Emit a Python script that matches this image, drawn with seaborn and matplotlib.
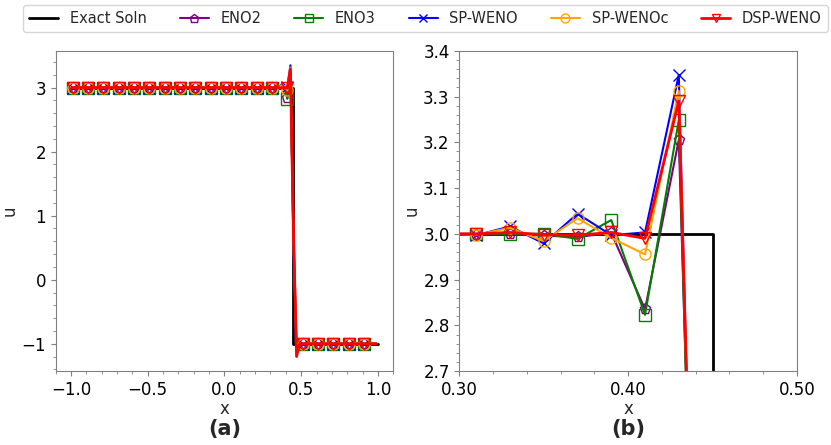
import numpy as np
import matplotlib
matplotlib.use("Agg")
import matplotlib.pyplot as plt
import seaborn as sns
from matplotlib.ticker import AutoMinorLocator, MultipleLocator, FormatStrFormatter

# cell centres on [-1, 1], dx = 0.02
x = np.round(np.arange(-0.99, 1.0, 0.02), 2)

# values: plateau u=3 up to x=0.29, shock region 0.31..0.47, plateau u=-1 after
n_left = 65
n_right = 26
eno2_shock = [2.998, 2.999, 2.996, 2.993, 3.002, 2.835, 3.205, 0.8, -1.05]
eno3_shock = [3.0, 3.0, 3.0, 2.989, 3.030, 2.823, 3.248, 0.6, -1.1]
spweno_shock = [2.997, 3.016, 2.979, 3.044, 2.997, 3.003, 3.347, 0.5, -1.15]
spwenoc_shock = [2.998, 3.013, 2.984, 3.034, 2.991, 2.955, 3.312, 0.6, -1.1]
dspweno_shock = [3.0, 3.003, 2.998, 2.997, 3.003, 2.990, 3.290, 0.7, -1.2]

eno2 = [3.0] * n_left + eno2_shock + [-1.0] * n_right
eno3 = [3.0] * n_left + eno3_shock + [-1.0] * n_right
spweno = [3.0] * n_left + spweno_shock + [-1.0] * n_right
spwenoc = [3.0] * n_left + spwenoc_shock + [-1.0] * n_right
dspweno = [3.0] * n_left + dspweno_shock + [-1.0] * n_right

exact_x = [-1.0, 0.45, 0.45, 1.0]
exact_u = [3.0, 3.0, -1.0, -1.0]

schemes = [
    ("ENO2", eno2, "purple", "p", 1.5),
    ("ENO3", eno3, "green", "s", 1.5),
    ("SP-WENO", spweno, "blue", "x", 1.5),
    ("SP-WENOc", spwenoc, "orange", "o", 1.5),
    ("DSP-WENO", dspweno, "red", "v", 2.0),
]

sns.set_style("ticks")
plt.rcParams["font.family"] = ["DejaVu Sans"]
plt.rcParams["axes.edgecolor"] = "#808080"
plt.rcParams["xtick.color"] = "#808080"
plt.rcParams["ytick.color"] = "#808080"
plt.rcParams["xtick.labelcolor"] = "black"
plt.rcParams["ytick.labelcolor"] = "black"

fig, axes = plt.subplots(1, 2, figsize=(8.31, 4.45), dpi=100)
fig.subplots_adjust(left=0.067, right=0.959, top=0.886, bottom=0.166, wspace=0.196)

for k, ax in enumerate(axes):
    sns.lineplot(x=exact_x, y=exact_u, ax=ax, color="black", lw=2,
                 sort=False, estimator=None, label="Exact Soln")
    for name, u, col, mk, lw in schemes:
        sns.lineplot(x=x, y=u, ax=ax, color=col, lw=lw, sort=False, estimator=None,
                     marker=mk, markersize=8, mfc="none", mec=col, mew=1.0,
                     markevery=5 if k == 0 else 1, label=name)
    ax.get_legend().remove()
    ax.set_xlabel("x", fontsize=12, labelpad=1)
    ax.set_ylabel("u", fontsize=12, labelpad=2)
    ax.tick_params(labelsize=12)
    ax.xaxis.set_minor_locator(AutoMinorLocator())
    ax.yaxis.set_minor_locator(AutoMinorLocator())

axes[1].set_xlim(0.30, 0.50)
axes[1].set_ylim(2.7, 3.4)
axes[1].xaxis.set_major_locator(MultipleLocator(0.1))
axes[1].xaxis.set_major_formatter(FormatStrFormatter("%.2f"))
axes[1].yaxis.set_major_locator(MultipleLocator(0.1))
axes[1].yaxis.set_major_formatter(FormatStrFormatter("%.1f"))

axes[0].text(0.5, -0.18, "(a)", transform=axes[0].transAxes, ha="center", va="center",
             fontsize=15, fontweight="bold")
axes[1].text(0.5, -0.18, "(b)", transform=axes[1].transAxes, ha="center", va="center",
             fontsize=15, fontweight="bold")

handles, labels = axes[0].get_legend_handles_labels()
fig.legend(handles, labels, loc="upper center", bbox_to_anchor=(0.512, 1.005), ncol=6,
           fontsize=10.5, frameon=True, markerscale=0.8, columnspacing=2.25)

fig.savefig("out.png", dpi=100)
